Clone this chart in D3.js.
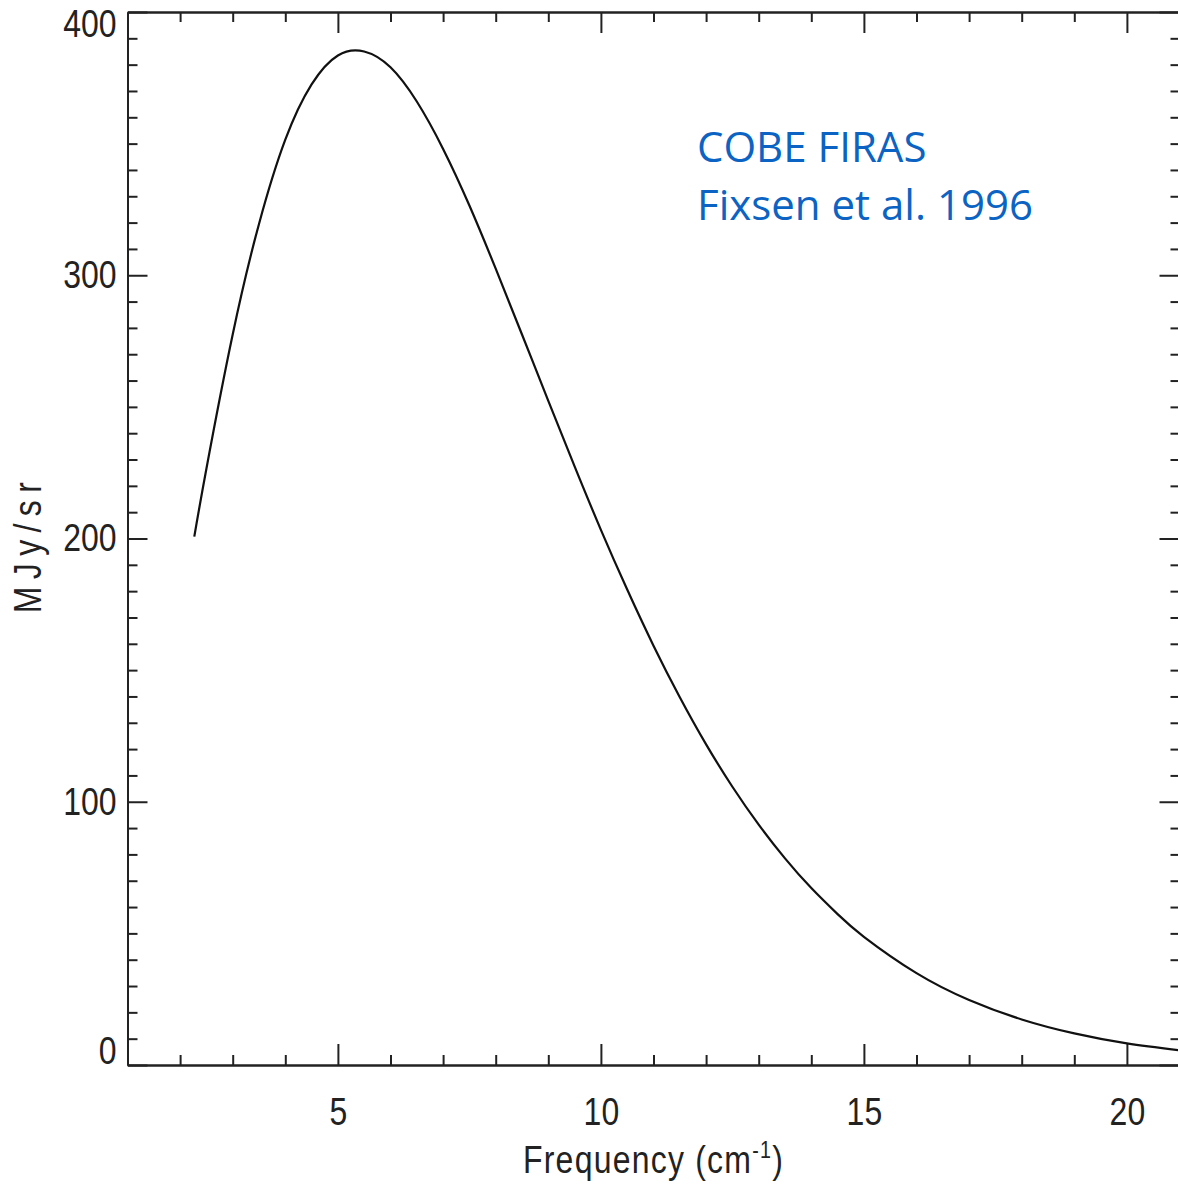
<!DOCTYPE html>
<html lang="en">
    <head>
        <meta charset="utf-8">
        <title>COBE FIRAS spectrum</title>
        <script type="text/javascript" src="https://d3js.org/d3.v7.min.js"></script>
        <style>
            body { margin: 0; background: #fff; }
            svg { display: block; }
            .axis text { font-family: "Liberation Sans", sans-serif; font-size: 39px; fill: #222; }
            .axis path, .axis line { stroke: #222; stroke-width: 2px; }
        </style>
    </head>
    <body>
        <script>
            // values
            const freq = [2.27, 2.5, 3, 3.5, 4, 4.5, 5, 5.5, 6, 6.5, 7, 7.5, 8, 8.5, 9, 9.5, 10,
                          10.5, 11, 11.5, 12, 12.5, 13, 13.5, 14, 14.5, 15, 16, 17, 18, 19, 20, 21];
            const intensity = [200.7, 226.5, 277.5, 319.5, 351.5, 372.5, 383.5, 385.0, 379.0, 366.0, 348.0, 326.5,
                               302.5, 277.5, 252.3, 227.4, 203.3, 180.6, 159.3, 139.7, 121.8, 105.7, 91.3, 78.5,
                               67.2, 57.3, 48.7, 34.9, 24.7, 17.3, 12.0, 8.2, 5.6];
            const xMajor = [5, 10, 15, 20];
            const xMinor = [2, 3, 4, 6, 7, 8, 9, 11, 12, 13, 14, 16, 17, 18, 19];
            const yMajor = [0, 100, 200, 300, 400];
            const yMinor = d3.range(10, 400, 10).filter(v => v % 100 !== 0);
            const note = ["COBE FIRAS", "Fixsen et al. 1996"];

            const w = 1178;
            const h = 1184;
            const pLeft = 127.5, pRight = 1179.5, pTop = 12, pBottom = 1065;
            const narrow = "scale(0.82,1)";

            const svg = d3.select("body")
                        .append("svg")
                        .attr("width", w)
                        .attr("height", h);

            const x = d3.scaleLinear().domain([1, 21]).range([pLeft, pRight]);
            const y = d3.scaleLinear().domain([0, 400]).range([pBottom, pTop]);

            // bottom axis
            svg.append("g").attr("class", "axis")
               .attr("transform", `translate(0,${pBottom})`)
               .call(d3.axisBottom(x).tickValues(xMinor).tickSize(-10).tickSizeOuter(0).tickFormat(""));
            svg.append("g").attr("class", "axis")
               .attr("transform", `translate(0,${pBottom})`)
               .call(d3.axisBottom(x).tickValues(xMajor).tickSize(-21).tickSizeOuter(0).tickPadding(32))
               .selectAll(".tick text").attr("transform", narrow);

            // top axis
            svg.append("g").attr("class", "axis")
               .attr("transform", `translate(0,${pTop})`)
               .call(d3.axisTop(x).tickValues(xMinor).tickSize(-10).tickSizeOuter(0).tickFormat(""));
            svg.append("g").attr("class", "axis")
               .attr("transform", `translate(0,${pTop})`)
               .call(d3.axisTop(x).tickValues(xMajor).tickSize(-21).tickSizeOuter(0).tickFormat(""));

            // left axis
            svg.append("g").attr("class", "axis")
               .attr("transform", `translate(${pLeft},0)`)
               .call(d3.axisLeft(y).tickValues(yMinor).tickSize(-10).tickSizeOuter(0).tickFormat(""));
            const yLeft = svg.append("g").attr("class", "axis")
               .attr("transform", `translate(${pLeft},0)`)
               .call(d3.axisLeft(y).tickValues(yMajor).tickSize(-20).tickSizeOuter(0).tickPadding(11));
            // end labels sit inside the frame
            yLeft.selectAll(".tick text")
                 .attr("x", 0)
                 .attr("transform", "translate(-11,0) " + narrow)
                 .attr("y", d => Math.min(Math.max(y(d), 24), 1051) - y(d));

            // right axis
            svg.append("g").attr("class", "axis")
               .attr("transform", `translate(${pRight},0)`)
               .call(d3.axisRight(y).tickValues(yMinor).tickSize(-9).tickSizeOuter(0).tickFormat(""));
            svg.append("g").attr("class", "axis")
               .attr("transform", `translate(${pRight},0)`)
               .call(d3.axisRight(y).tickValues(yMajor).tickSize(-20).tickSizeOuter(0).tickFormat(""));

            // curve
            const pts = freq.map((f, i) => [f, intensity[i]]);
            svg.append("path")
               .datum(pts)
               .attr("fill", "none")
               .attr("stroke", "#111")
               .attr("stroke-width", 2.2)
               .attr("d", d3.line()
                     .x(d => x(d[0]))
                     .y(d => y(d[1]))
                     .curve(d3.curveNatural));

            // axis titles
            const xt = svg.append("text")
               .attr("transform", `translate(${(pLeft + pRight) / 2},1173) ${narrow}`)
               .attr("text-anchor", "middle")
               .attr("font-family", "Liberation Sans, sans-serif")
               .attr("font-size", 39)
               .attr("letter-spacing", 1.5)
               .attr("fill", "#222");
            xt.append("tspan").text("Frequency (cm");
            xt.append("tspan").attr("font-size", 24).attr("dy", -15).text("-1");
            xt.append("tspan").attr("dy", 15).text(")");

            svg.append("text")
               .attr("transform", `translate(41,544) rotate(-90) ${narrow}`)
               .attr("text-anchor", "middle")
               .attr("font-family", "Liberation Sans, sans-serif")
               .attr("font-size", 39)
               .attr("letter-spacing", 9)
               .attr("fill", "#222")
               .text("MJy/sr");

            // annotation
            svg.selectAll("text.note")
               .data(note)
               .enter()
               .append("text")
               .attr("class", "note")
               .attr("x", 697)
               .attr("y", (d, i) => 162 + i * 58)
               .attr("font-family", "Open Sans, sans-serif")
               .attr("font-size", 42)
               .attr("fill", "#0B64C4")
               .text(d => d);
        </script>
    </body>
</html>
